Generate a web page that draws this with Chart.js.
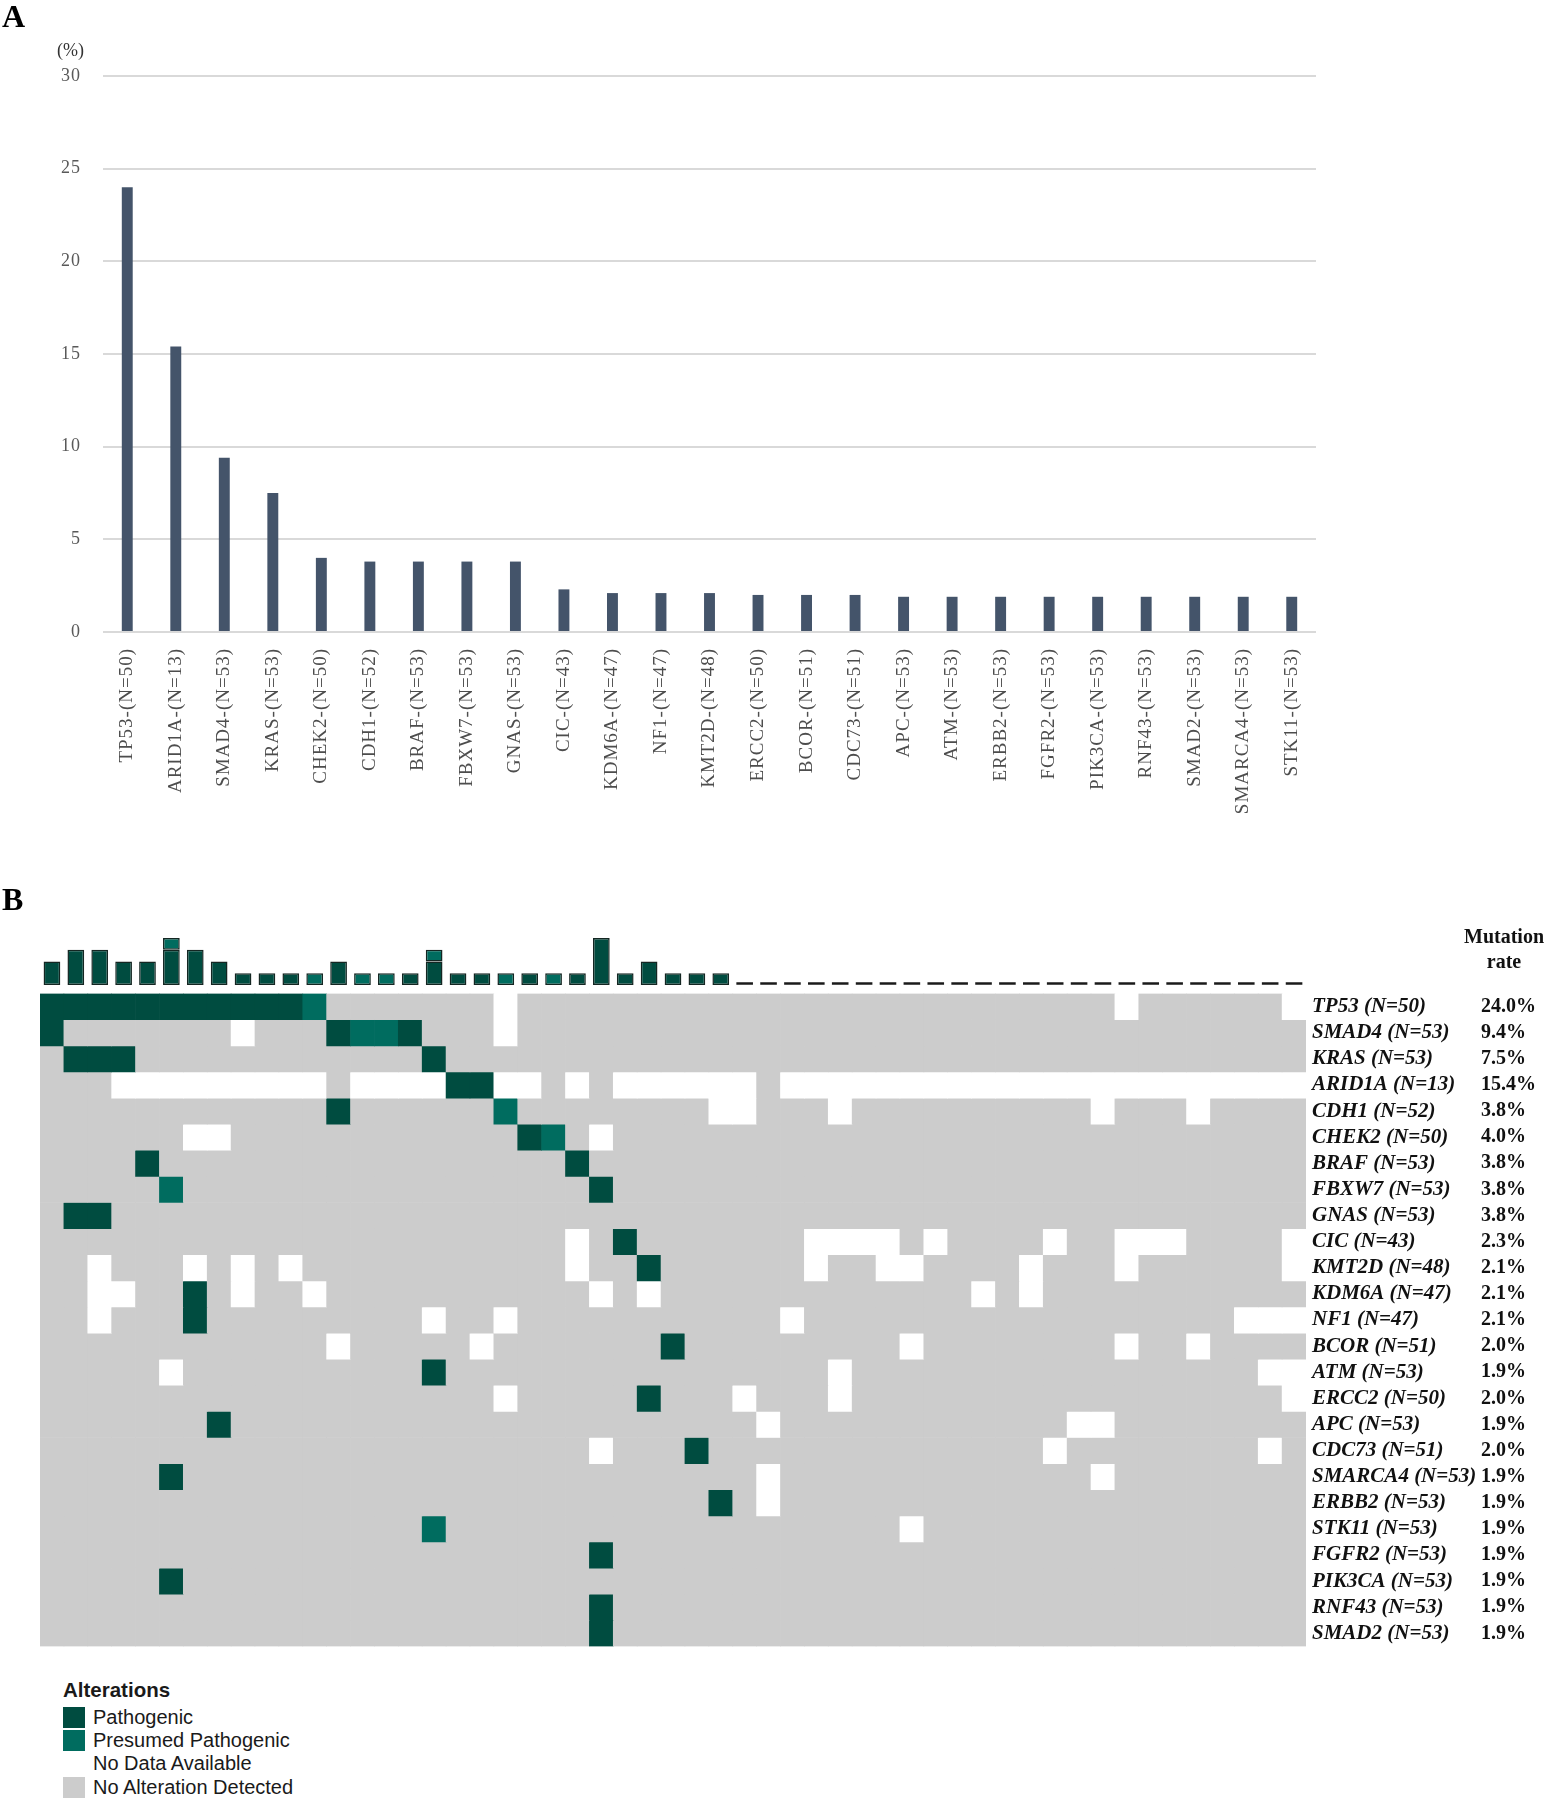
<!DOCTYPE html>
<html>
<head>
<meta charset="utf-8">
<script src="https://cdn.jsdelivr.net/npm/chart.js@4.4.0/dist/chart.umd.min.js"></script>
<style>
  body { margin: 0; background: #fff; }
  #page { position: relative; width: 1545px; height: 1800px; overflow: hidden; font-family: 'Liberation Serif', serif; }
  canvas { position: absolute; left: 0; }
  .txt { position: absolute; white-space: nowrap; }
  .panel { font: bold 32px/32px 'Liberation Serif', serif; color: #000; }
  .legend { font-family: 'Liberation Sans', Arial, sans-serif; color: #1a1a1a; }
  .sw { position: absolute; left: 63px; width: 22px; height: 21px; }
  .item { position: absolute; left: 93px; font-size: 20px; line-height: 21px; }
</style>
</head>
<body>
<div id="page">
  <canvas id="rateChart" width="1545" height="840" style="top:0"></canvas>
  <canvas id="countChart" width="1545" height="90" style="top:900px"></canvas>
  <canvas id="heatChart" width="1545" height="690" style="top:975px"></canvas>

  <div class="txt panel" style="left:2px;top:0px">A</div>
  <div class="txt panel" style="left:2px;top:883px">B</div>
  <div class="txt" style="left:57px;top:40px;font-size:18px;line-height:20px;color:#333">(%)</div>
  <div class="txt" style="left:1444px;top:924px;width:120px;text-align:center;font:bold 20px/25px 'Liberation Serif', serif;color:#111">Mutation<br>rate</div>

  <div class="legend">
    <div class="txt" style="left:63px;top:1678px;font-weight:bold;font-size:20.5px;line-height:23px">Alterations</div>
    <div class="sw" style="top:1707px;background:#004c40"></div>
    <div class="txt item" style="top:1707px">Pathogenic</div>
    <div class="sw" style="top:1730px;background:#006c5f"></div>
    <div class="txt item" style="top:1730px">Presumed Pathogenic</div>
    <div class="txt item" style="top:1753px">No Data Available</div>
    <div class="sw" style="top:1777px;background:#cccccc"></div>
    <div class="txt item" style="top:1777px">No Alteration Detected</div>
  </div>
</div>

<script>
// panel A: mutation rate per gene (%)
const rateGenes = ['TP53-(N=50)', 'ARID1A-(N=13)', 'SMAD4-(N=53)', 'KRAS-(N=53)', 'CHEK2-(N=50)',
  'CDH1-(N=52)', 'BRAF-(N=53)', 'FBXW7-(N=53)', 'GNAS-(N=53)', 'CIC-(N=43)', 'KDM6A-(N=47)',
  'NF1-(N=47)', 'KMT2D-(N=48)', 'ERCC2-(N=50)', 'BCOR-(N=51)', 'CDC73-(N=51)', 'APC-(N=53)',
  'ATM-(N=53)', 'ERBB2-(N=53)', 'FGFR2-(N=53)', 'PIK3CA-(N=53)', 'RNF43-(N=53)', 'SMAD2-(N=53)',
  'SMARCA4-(N=53)', 'STK11-(N=53)'];
const rateValues = [24.0, 15.4, 9.4, 7.5, 4.0, 3.8, 3.8, 3.8, 3.8, 2.3, 2.1, 2.1, 2.1, 2.0, 2.0, 2.0,
  1.9, 1.9, 1.9, 1.9, 1.9, 1.9, 1.9, 1.9, 1.9];

// panel B: oncoprint
const heatGenes = ['TP53 (N=50)', 'SMAD4 (N=53)', 'KRAS (N=53)', 'ARID1A (N=13)', 'CDH1 (N=52)',
  'CHEK2 (N=50)', 'BRAF (N=53)', 'FBXW7 (N=53)', 'GNAS (N=53)', 'CIC (N=43)', 'KMT2D (N=48)',
  'KDM6A (N=47)', 'NF1 (N=47)', 'BCOR (N=51)', 'ATM (N=53)', 'ERCC2 (N=50)', 'APC (N=53)',
  'CDC73 (N=51)', 'SMARCA4 (N=53)', 'ERBB2 (N=53)', 'STK11 (N=53)', 'FGFR2 (N=53)',
  'PIK3CA (N=53)', 'RNF43 (N=53)', 'SMAD2 (N=53)'];
const heatRates = ['24.0%', '9.4%', '7.5%', '15.4%', '3.8%', '4.0%', '3.8%', '3.8%', '3.8%', '2.3%',
  '2.1%', '2.1%', '2.1%', '2.0%', '1.9%', '2.0%', '1.9%', '2.0%', '1.9%', '1.9%', '1.9%', '1.9%',
  '1.9%', '1.9%', '1.9%'];

// one string per gene, one char per sample (53), spaces only for reading
// P = pathogenic, p = presumed pathogenic, x = no data, . = no alteration
const alterationRows = [
  'PPPPPPPPPP Pp.......x .......... .......... .....x.... ..x', // TP53
  'P.......x. ..PppP...x .......... .......... .......... ...', // SMAD4
  '.PPP...... ......P... .......... .......... .......... ...', // KRAS
  '...xxxxxxx xx.xxxxPPx x.x.xxxxxx .xxxxxxxxx xxxxxxxxxx xxx', // ARID1A
  '.......... ..P......p ........xx ...x...... ....x...x. ...', // CDH1
  '......xx.. .......... Pp.x...... .......... .......... ...', // CHEK2
  '....P..... .......... ..P....... .......... .......... ...', // BRAF
  '.....p.... .......... ...P...... .......... .......... ...', // FBXW7
  '.PP....... .......... .......... .......... .......... ...', // GNAS
  '.......... .......... ..x.P..... ..xxxx.x.. ..x..xxx.. ..x', // CIC
  '..x...x.x. x......... ..x..P.... ..x..xx... .x...x.... ..x', // KMT2D
  '..xx..P.x. .x........ ...x.x.... .........x .x........ ...', // KDM6A
  '..x...P... ......x..x .......... .x........ .......... xxx', // NF1
  '.......... ..x.....x. ......P... ......x... .....x..x. ...', // BCOR
  '.....x.... ......P... .......... ...x...... .......... .xx', // ATM
  '.......... .........x .....P...x ...x...... .......... ..x', // ERCC2
  '.......P.. .......... .......... x......... ...xx..... ...', // APC
  '.......... .......... ...x...P.. .......... ..x....... .x.', // CDC73
  '.....P.... .......... .......... x......... ....x..... ...', // SMARCA4
  '.......... .......... ........P. x......... .......... ...', // ERBB2
  '.......... ......p... .......... ......x... .......... ...', // STK11
  '.......... .......... ...P...... .......... .......... ...', // FGFR2
  '.....P.... .......... .......... .......... .......... ...', // PIK3CA
  '.......... .......... ...P...... .......... .......... ...', // RNF43
  '.......... .......... ...P...... .......... .......... ...'  // SMAD2
];

// alterations per sample (bars above the grid)
const pathoCounts = [2, 3, 3, 2, 2, 3, 3, 2, 1, 1, 1, 0, 2, 0, 0, 1, 2, 1, 1, 0, 1, 0, 1, 4, 1, 2, 1,
  1, 1, 0, 0, 0, 0, 0, 0, 0, 0, 0, 0, 0, 0, 0, 0, 0, 0, 0, 0, 0, 0, 0, 0, 0, 0];
const presumedCounts = [0, 0, 0, 0, 0, 1, 0, 0, 0, 0, 0, 1, 0, 1, 1, 0, 1, 0, 0, 1, 0, 1, 0, 0, 0, 0, 0,
  0, 0, 0, 0, 0, 0, 0, 0, 0, 0, 0, 0, 0, 0, 0, 0, 0, 0, 0, 0, 0, 0, 0, 0, 0, 0];
const sampleIds = pathoCounts.map((v, i) => 'S' + (i + 1));

const PATHO = '#004c40';
const PRESUMED = '#006c5f';
const CELL_COLORS = { 'P': PATHO, 'p': PRESUMED, 'x': '#ffffff', '.': '#cccccc' };

Chart.defaults.font.family = "'Liberation Serif', 'Times New Roman', serif";

const spacing = {
  id: 'spacing',
  beforeDraw(chart, args, opts) { chart.ctx.letterSpacing = opts.value || '0px'; },
  afterDraw(chart) { chart.ctx.letterSpacing = '0px'; }
};

new Chart(document.getElementById('rateChart'), {
  type: 'bar',
  data: {
    labels: rateGenes,
    datasets: [{
      data: rateValues,
      backgroundColor: '#44546a',
      barPercentage: 0.225,
      categoryPercentage: 1
    }]
  },
  options: {
    responsive: false,
    animation: false,
    layout: { padding: { top: 76, right: 229, left: 3, bottom: 0 } },
    plugins: { legend: { display: false }, tooltip: { enabled: false }, spacing: { value: '1px' } },
    scales: {
      x: {
        grid: { display: false },
        border: { display: false },
        ticks: { color: '#4d4d4d', font: { size: 19 }, minRotation: 90, maxRotation: 90, autoSkip: false, padding: 8 },
        afterFit: axis => { axis.height = 208; }
      },
      y: {
        min: 0,
        max: 30,
        ticks: { stepSize: 5, color: '#595959', font: { size: 18 }, padding: 22 },
        grid: { color: '#d9d9d9', lineWidth: 2, drawTicks: false },
        border: { display: false },
        afterFit: axis => { axis.width = 100; }
      }
    }
  },
  plugins: [spacing]
});

// short dash at the baseline for samples with nothing found
const zeroDash = {
  id: 'zeroDash',
  afterDatasetsDraw(chart) {
    const { ctx, scales: { x, y } } = chart;
    const y0 = y.getPixelForValue(0) - 1.5;
    ctx.save();
    ctx.strokeStyle = '#1a1a1a';
    ctx.lineWidth = 2.5;
    pathoCounts.forEach((v, i) => {
      if (v + presumedCounts[i] > 0) return;
      const cx = x.getPixelForValue(i);
      ctx.beginPath();
      ctx.moveTo(cx - 8.3, y0);
      ctx.lineTo(cx + 8.3, y0);
      ctx.stroke();
    });
    ctx.restore();
  }
};

new Chart(document.getElementById('countChart'), {
  type: 'bar',
  data: {
    labels: sampleIds,
    datasets: [{
      label: 'Pathogenic',
      data: pathoCounts,
      backgroundColor: PATHO,
      borderColor: '#142622',
      borderWidth: 1.5,
      borderSkipped: false,
      barPercentage: 0.7,
      categoryPercentage: 1
    }, {
      label: 'Presumed Pathogenic',
      data: presumedCounts,
      backgroundColor: PRESUMED,
      borderColor: '#142622',
      borderWidth: 1.5,
      borderSkipped: false,
      barPercentage: 0.7,
      categoryPercentage: 1
    }]
  },
  options: {
    responsive: false,
    animation: false,
    layout: { padding: { top: 38, bottom: 5, left: 40, right: 239 } },
    plugins: { legend: { display: false }, tooltip: { enabled: false } },
    scales: {
      x: { display: false, stacked: true },
      y: { display: false, stacked: true, min: 0, max: 4 }
    }
  },
  plugins: [zeroDash]
});

const heatDatasets = alterationRows.map((row, r) => {
  const cells = row.replace(/ /g, '').split('');
  return {
    label: heatGenes[r],
    data: cells.map(() => [r, r + 1]),
    backgroundColor: cells.map(c => CELL_COLORS[c]),
    borderWidth: 0,
    grouped: false,
    barPercentage: 1,
    categoryPercentage: 1
  };
});

const rowTicks = axis => { axis.ticks = heatGenes.map((g, i) => ({ value: i + 0.5 })); };

new Chart(document.getElementById('heatChart'), {
  type: 'bar',
  data: { labels: sampleIds, datasets: heatDatasets },
  options: {
    responsive: false,
    animation: false,
    layout: { padding: { top: 14, bottom: 16, left: 40, right: 0 } },
    plugins: { legend: { display: false }, tooltip: { enabled: false } },
    scales: {
      x: { display: false },
      y: {
        type: 'linear',
        position: 'right',
        weight: 0,
        min: 0,
        max: 25,
        reverse: true,
        afterBuildTicks: rowTicks,
        ticks: {
          autoSkip: false,
          callback: (v, i) => heatGenes[i],
          color: '#111',
          font: { size: 21, style: 'italic', weight: 'bold' },
          padding: 6,
          crossAlign: 'near'
        },
        grid: { display: false, drawTicks: false },
        border: { display: false },
        afterFit: axis => { axis.width = 175; }
      },
      rate: {
        type: 'linear',
        position: 'right',
        weight: 1,
        min: 0,
        max: 25,
        reverse: true,
        afterBuildTicks: rowTicks,
        ticks: {
          autoSkip: false,
          callback: (v, i) => heatRates[i],
          color: '#111',
          font: { size: 20, weight: 'bold' },
          padding: 0,
          crossAlign: 'near'
        },
        grid: { display: false, drawTicks: false },
        border: { display: false },
        afterFit: axis => { axis.width = 64; }
      }
    }
  }
});
</script>
</body>
</html>
